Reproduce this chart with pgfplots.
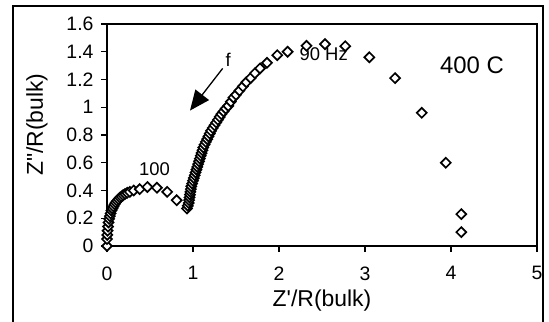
\documentclass[border=0pt]{standalone}
\usepackage{pgfplots}
\pgfplotsset{compat=1.18}
\usepackage{fontspec}
\newfontfamily\arial{Liberation Sans}
\usetikzlibrary{arrows.meta}
\begin{document}
\begin{tikzpicture}[font=\arial]
\begin{axis}[
  name=ax,
  scale only axis,
  width=430bp, height=222bp,
  xmin=0, xmax=5, ymin=0, ymax=1.6,
  xtick={0,1,2,3,4,5},
  ytick={0,0.2,0.4,0.6,0.8,1,1.2,1.4,1.6},
  yticklabels={0,0.2,0.4,0.6,0.8,1,1.2,1.4,1.6},
  xticklabels={0,1,2,3,4,5},
  tick pos=left,
  tick align=outside,
  major tick length=6bp,
  axis line style={line width=1.5bp},
  every tick/.style={line width=1.2bp, black},
  /pgf/number format/assume math mode=true,
  ticklabel style={font=\arial\fontsize{19.5}{21}\selectfont},
  xticklabel style={yshift=-11bp},
  yticklabel style={xshift=-4bp},
  xlabel={Z'/R(bulk)},
  ylabel={Z"/R(bulk)},
  label style={font=\arial\fontsize{23}{25}\selectfont},
  xlabel style={at={(axis description cs:0.5,-0.248)}, anchor=center},
  ylabel style={at={(axis description cs:-0.163,0.547)}, anchor=center, rotate=0},
  clip=false,
]
\addplot[only marks, mark=square*, mark size=3.5bp,
  mark options={rotate=45, fill=white, draw=black, line width=1.7bp}]
coordinates {
(0,0) (0.0,0.05) (0.003,0.08) (0.007,0.11) (0.012,0.14) (0.018,0.17)
(0.025,0.195) (0.033,0.215) (0.042,0.235) (0.052,0.255) (0.063,0.27)
(0.075,0.285) (0.088,0.30) (0.102,0.313) (0.117,0.325) (0.133,0.337)
(0.15,0.348) (0.168,0.357) (0.188,0.366) (0.21,0.375) (0.235,0.383)
(0.265,0.39) (0.31,0.40) (0.38,0.41) (0.47,0.425) (0.58,0.42)
(0.70,0.39) (0.81,0.33) (0.93,0.27)
(0.94,0.29) (0.95,0.31) (0.955,0.33) (0.96,0.35) (0.965,0.37) (0.97,0.39)
(0.975,0.41) (0.98,0.43) (0.99,0.45) (1.0,0.47) (1.01,0.49) (1.02,0.51)
(1.03,0.53) (1.04,0.55) (1.05,0.57) (1.06,0.59) (1.07,0.61) (1.08,0.63)
(1.09,0.65) (1.10,0.67) (1.11,0.69) (1.12,0.71) (1.135,0.73) (1.15,0.75)
(1.165,0.77) (1.18,0.79) (1.195,0.81) (1.21,0.83) (1.23,0.85) (1.25,0.87)
(1.27,0.89) (1.29,0.91) (1.31,0.93) (1.33,0.95) (1.355,0.97) (1.38,0.99)
(1.41,1.01) (1.44,1.04) (1.47,1.07) (1.50,1.09) (1.54,1.12) (1.58,1.15)
(1.62,1.18) (1.67,1.21) (1.72,1.245) (1.78,1.28) (1.86,1.32) (1.98,1.375)
(2.10,1.40) (2.32,1.443) (2.535,1.455) (2.77,1.44) (3.05,1.36) (3.35,1.21)
(3.66,0.96) (3.94,0.60) (4.12,0.23) (4.12,0.10)
};
\node[font=\arial\fontsize{18.5}{20}\selectfont] at (axis cs:0.552,0.556) {100};
\node[font=\arial\fontsize{18.5}{20}\selectfont] at (axis cs:2.52,1.38) {90 Hz};
\node[font=\arial\fontsize{18.5}{20}\selectfont] at (axis cs:1.41,1.345) {f};
\node[font=\arial\fontsize{24}{26}\selectfont] at (axis cs:4.244,1.306) {400 C};
\draw[line width=1.3bp, -{Triangle[length=20bp,width=17bp]}] (axis cs:1.345,1.28) -- (axis cs:0.965,0.976);
\end{axis}
\draw[line width=1.6bp] ([shift={(-94bp,-100bp)}]ax.south west) rectangle ([shift={(6bp,18bp)}]ax.north east);
\pgfresetboundingbox
\useasboundingbox ([shift={(-107bp,-76bp)}]ax.south west) rectangle ([shift={(12bp,24bp)}]ax.north east);
\end{tikzpicture}
\end{document}
